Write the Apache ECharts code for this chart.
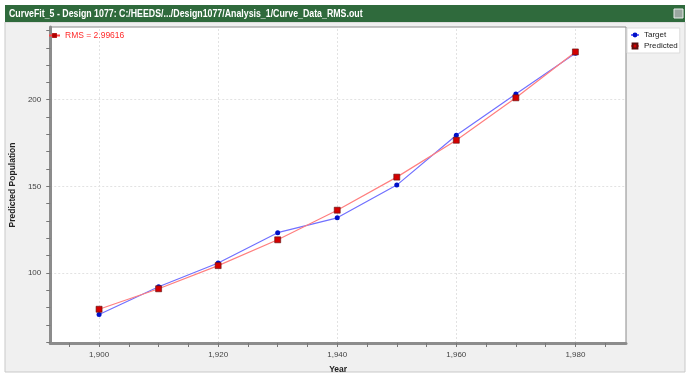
<!DOCTYPE html>
<html>
<head>
<meta charset="utf-8">
<script src="https://cdn.jsdelivr.net/npm/echarts@6/dist/echarts.min.js"></script>
<style>html,body{margin:0;padding:0;background:#fff}#c{width:692px;height:381px}</style>
</head>
<body>
<div id="c"></div>
<script>
const years = [1900, 1910, 1920, 1930, 1940, 1950, 1960, 1970, 1980];
const target = [76.0, 92.0, 105.7, 123.2, 131.8, 150.7, 179.5, 203.3, 226.8];
const predicted = [79.0, 90.8, 104.2, 119.1, 136.2, 155.3, 176.6, 201.1, 227.6];
const xLabelValues = [1900, 1920, 1940, 1960, 1980];
const xTickValues = [1895, 1900, 1905, 1910, 1915, 1920, 1925, 1930, 1935, 1940, 1945, 1950, 1955, 1960, 1965, 1970, 1975, 1980, 1985];
const yLabelValues = [100, 150, 200];
const yTickValues = [60, 70, 80, 90, 100, 110, 120, 130, 140, 150, 160, 170, 180, 190, 200, 210, 220, 230, 240];
const rmsText = 'RMS = 2.99616';
const titleText = 'CurveFit_5 - Design 1077: C:/HEEDS/.../Design1077/Analysis_1/Curve_Data_RMS.out';

const chart = echarts.init(document.getElementById('c'));
const gridLine = {color: '#e2e2e2', type: [2, 2], width: 1};
const fmtComma = v => String(v).replace(/\B(?=(\d{3})+(?!\d))/g, ',');

chart.setOption({
  animation: false,
  backgroundColor: '#ffffff',
  graphic: [
    {type: 'rect', z: -10, shape: {x: 5, y: 22, width: 680, height: 350}, style: {fill: '#f0f0f0', stroke: '#c9c9c9', lineWidth: 1}},
    {type: 'rect', z: -9, shape: {x: 5, y: 5, width: 680, height: 17}, style: {fill: '#2f6a3c'}},
    {type: 'text', z: -8, x: 9, y: 13.5, scaleX: 0.8, style: {text: titleText, fill: '#ffffff', font: 'bold 11px "Liberation Sans", sans-serif', verticalAlign: 'middle'}},
    {type: 'rect', z: -8, shape: {x: 674, y: 9, width: 9, height: 9}, style: {fill: '#9aa7a0', stroke: '#e8ece9', lineWidth: 1}}
  ],
  grid: {left: 45, top: 27, right: 66, bottom: 38, show: true, backgroundColor: '#ffffff', borderColor: '#8a8a8a', borderWidth: 1},
  legend: [
    {
      data: ['Target', 'Predicted'], orient: 'vertical', left: 627, top: 28,
      backgroundColor: '#ffffff', borderColor: '#dcdcdc', borderWidth: 1,
      padding: [3, 2, 3, 3], itemGap: 3, itemWidth: 8, itemHeight: 6,
      textStyle: {fontSize: 8, color: '#222', fontFamily: 'Liberation Sans'}
    },
    {
      data: [rmsText], left: 48, top: 31, padding: 0, itemWidth: 11, itemHeight: 6,
      textStyle: {fontSize: 8.5, color: '#ff2a2a', fontFamily: 'Liberation Sans'}
    }
  ],
  xAxis: {
    type: 'value', min: 1891.8, max: 1988.5,
    name: 'Year', nameLocation: 'middle', nameGap: 22,
    nameTextStyle: {fontSize: 8.5, fontWeight: 'bold', color: '#222', fontFamily: 'Liberation Sans'},
    axisLine: {show: true, lineStyle: {color: '#8c8c8c', width: 3}},
    axisTick: {show: true, length: 4, customValues: xTickValues, lineStyle: {color: '#777'}},
    axisLabel: {customValues: xLabelValues, formatter: fmtComma, fontSize: 8, color: '#444', margin: 8, fontFamily: 'Liberation Sans'},
    splitLine: {show: false}
  },
  yAxis: {
    type: 'value', min: 59.5, max: 242,
    name: 'Predicted Population', nameLocation: 'middle', nameGap: 29,
    nameTextStyle: {fontSize: 8.5, fontWeight: 'bold', color: '#222', fontFamily: 'Liberation Sans'},
    axisLine: {show: true, lineStyle: {color: '#8c8c8c', width: 3}},
    axisTick: {show: true, length: 4, customValues: yTickValues, lineStyle: {color: '#777'}},
    axisLabel: {customValues: yLabelValues, fontSize: 8, color: '#444', margin: 9, fontFamily: 'Liberation Sans'},
    splitLine: {show: false}
  },
  series: [
    {
      name: 'grid', type: 'line', data: [], silent: true, z: 0,
      markLine: {
        z: 0, silent: true, symbol: 'none', label: {show: false}, lineStyle: gridLine, animation: false,
        data: xLabelValues.map(v => ({xAxis: v})).concat(yLabelValues.map(v => ({yAxis: v})))
      }
    },
    {
      name: 'Target', type: 'line', data: years.map((y, i) => [y, target[i]]),
      symbol: 'circle', symbolSize: 5, z: 3,
      itemStyle: {color: '#0010c8'}, lineStyle: {color: '#7070ff', width: 1.2}
    },
    {
      name: 'Predicted', type: 'line', data: years.map((y, i) => [y, predicted[i]]),
      symbol: 'rect', symbolSize: 6, z: 4,
      itemStyle: {color: '#d40000', borderColor: '#5a1010', borderWidth: 0.6}, lineStyle: {color: '#ff7f7f', width: 1.2}
    },
    {
      name: rmsText, type: 'line', data: [], symbol: 'rect', symbolSize: 6,
      itemStyle: {color: '#b00000'}, lineStyle: {color: '#ff4040', width: 1}
    }
  ]
});
</script>
</body>
</html>
